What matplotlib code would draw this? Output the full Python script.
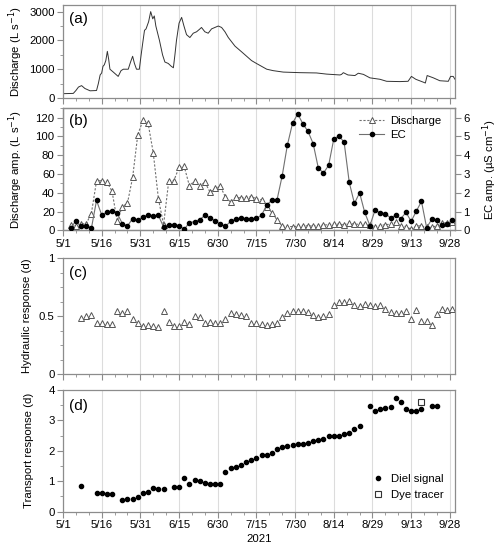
import matplotlib
matplotlib.use("Agg")
import matplotlib.pyplot as plt
from matplotlib.ticker import MultipleLocator, FixedLocator
import numpy as np

plt.rcParams['font.family'] = ['Liberation Sans', 'DejaVu Sans']
plt.rcParams['font.size'] = 8

# ---- data (x = days after 5/1/2021) ----
tick_days = [0, 15, 30, 45, 60, 75, 90, 105, 120, 135, 150]
tick_labels = ['5/1', '5/16', '5/31', '6/15', '6/30', '7/15', '7/30', '8/14', '8/29', '9/13', '9/28']

# (a) discharge
q_days = [0, 2, 4, 5, 6, 7.2, 8.5, 10.5, 13, 13.7, 14.4, 15, 15.5, 16, 16.6, 17.2, 17.7, 18.2, 19.5, 21.4,
          22.5, 23.4, 25.3, 26.2, 27, 27.7, 28.5, 29.6, 30.3, 30.9, 31.6, 32.2, 33.2, 34, 34.8, 35.4,
          36, 37.4, 38.6, 39.5, 40.8, 42, 42.8, 43.4, 44, 45, 46, 46.9, 47.9, 49.2, 50.5, 51.8, 53.1,
          53.7, 55, 56.3, 57.6, 58.9, 60.2, 61.5, 62.8, 64.1, 65.4, 66.7, 68, 69.3, 71.2, 73.1, 75, 77,
          79, 81.5, 85.4, 91.9, 98.3, 102.2, 107.4, 108, 108.7, 110.5, 113.2, 114.5, 116.5, 119, 122.9,
          125.5, 130.6, 133.8, 135.1, 136.8, 139.7, 140.5, 141.2, 143.6, 146.1, 149.4, 150.3, 151.3, 152]
q_vals = [150, 155, 160, 260, 380, 430, 330, 250, 260, 500, 800, 870, 1100, 1150, 1300, 1620, 1350, 1000,
          900, 750, 950, 1000, 1000, 1250, 1450, 1200, 1000, 1000, 1500, 1900, 2350, 2400, 2650, 3000,
          2750, 2850, 2500, 2000, 1500, 1250, 1200, 1100, 1050, 1500, 2000, 2600, 2800, 2500, 2200,
          2100, 2250, 2300, 2400, 2450, 2300, 2250, 2400, 2450, 2500, 2450, 2300, 2100, 1950, 1800,
          1700, 1600, 1450, 1300, 1200, 1100, 1000, 950, 900, 880, 870, 830, 800, 820, 880, 800, 780,
          860, 820, 700, 650, 580, 570, 580, 750, 650, 550, 520, 780, 700, 600, 580, 750, 750, 650]

# (b) diel amplitudes
amp_days = list(range(3, 152, 2))
q_amp = [5.7, 5, 6.8, 7.1, 17.9, 52.5, 53, 51.4, 41.8, 10, 25, 29, 56.4, 102, 117, 114, 82.5, 33.6, 6,
         52.5, 53, 67, 68, 47.5, 52.5, 46.8, 51.4, 40.7, 44.6, 46.8, 35.4, 30, 35, 34.6, 34.3, 36, 33.6,
         32.5, 24.6, 18.9, 11, 4.5, 4.0, 4.0, 4.2, 4.5, 4.8, 4.5, 5, 5.5, 6.0, 6.5, 6.5, 6, 7.5, 6.5,
         6.5, 6.5, 5.5, 4.0, 5.0, 6.0, 6.5, 8.5, 5, 4, 1, 5, 4.5, 3.5, 3, 5, 8, 8, 9]
ec_amp = [0.125, 0.5, 0.21, 0.21, 0.1, 1.59, 0.82, 0.96, 1.04, 0.91, 0.36, 0.23, 0.625, 0.55, 0.7, 0.84,
          0.77, 0.79, 0.18, 0.3, 0.3, 0.25, 0.05, 0.41, 0.46, 0.57, 0.79, 0.68, 0.5, 0.32, 0.21, 0.48,
          0.59, 0.64, 0.625, 0.59, 0.64, 0.8, 1.36, 1.59, 1.63, 2.91, 4.54, 5.7, 6.2, 5.68, 5.27, 4.62,
          3.32, 3.05, 3.46, 4.87, 5.02, 4.7, 2.55, 1.43, 2.0, 0.95, 0.25, 1.07, 0.93, 0.89, 0.66, 0.8,
          0.625, 0.95, 0.48, 1.02, 1.54, 0.14, 0.59, 0.54, 0.27, 0.32, 0.55]

# (c) hydraulic response
hyd_days = list(range(7, 152, 2))
hyd_resp = [0.481, 0.501, 0.51, 0.444, 0.444, 0.432, 0.432, 0.548, 0.53, 0.545, 0.473, 0.441, 0.415,
            0.424, 0.418, 0.409, 0.548, 0.45, 0.418, 0.418, 0.45, 0.432, 0.501, 0.49, 0.438, 0.45,
            0.438, 0.441, 0.473, 0.53, 0.516, 0.51, 0.501, 0.438, 0.438, 0.435, 0.424, 0.432, 0.438,
            0.493, 0.527, 0.542, 0.542, 0.542, 0.533, 0.51, 0.49, 0.504, 0.522, 0.6, 0.625, 0.625,
            0.631, 0.6, 0.591, 0.602, 0.594, 0.585, 0.594, 0.559, 0.539, 0.53, 0.524, 0.542, 0.473,
            0.55, 0.458, 0.461, 0.427, 0.522, 0.559, 0.556, 0.562]

# (d) transport response
tr_days = [7, 13, 15, 17, 19, 23, 25, 27, 29, 31, 33, 35, 37, 39, 43, 45, 47, 49, 51, 53, 55, 57, 59, 61,
           63, 65, 67, 69, 71, 73, 75, 77, 79, 81, 83, 85, 87, 89, 91, 93, 95, 97, 99, 101, 103, 105,
           107, 109, 111, 113, 115, 119, 121, 123, 125, 127, 129, 131, 133, 135, 137, 139, 143, 145]
tr_resp = [0.83, 0.61, 0.6, 0.58, 0.59, 0.40, 0.41, 0.41, 0.48, 0.63, 0.66, 0.77, 0.76, 0.76, 0.80, 0.82,
           1.12, 0.9, 1.04, 1.01, 0.93, 0.91, 0.91, 0.92, 1.31, 1.43, 1.48, 1.53, 1.63, 1.71, 1.76, 1.86,
           1.86, 1.92, 2.06, 2.12, 2.16, 2.19, 2.21, 2.24, 2.27, 2.31, 2.37, 2.4, 2.49, 2.5, 2.5, 2.54,
           2.58, 2.71, 2.81, 3.48, 3.3, 3.37, 3.41, 3.43, 3.74, 3.61, 3.38, 3.31, 3.32, 3.36, 3.47, 3.47]
dye_days = [139]
dye_resp = [3.61]

# ---- figure ----
W, H = 500, 552
fig = plt.figure(figsize=(W / 100, H / 100), dpi=100)
L, R = 63, 455

def add_ax(top, bottom):
    return fig.add_axes([L / W, 1 - bottom / H, (R - L) / W, (bottom - top) / H])

axa = add_ax(5, 98)
axb = add_ax(108.3, 230.3)
axc = add_ax(258.3, 374)
axd = add_ax(390, 511.7)

frame_c = '#8c8c8c'
grid_c = '#dcdcdc'
FS = 8.2

def style(ax, show_labels):
    ax.set_xlim(0, 152)
    ax.xaxis.set_major_locator(FixedLocator(tick_days))
    ax.xaxis.set_minor_locator(MultipleLocator(5))
    if show_labels:
        ax.set_xticklabels(tick_labels)
    else:
        ax.set_xticklabels([])
    ax.grid(axis='x', which='major', color=grid_c, lw=0.8, zorder=0)
    ax.set_axisbelow(True)
    for s in ax.spines.values():
        s.set_color(frame_c)
        s.set_linewidth(0.9)
    ax.tick_params(which='both', direction='out', color=frame_c, labelsize=FS, pad=2)
    ax.tick_params(which='major', length=4)
    ax.tick_params(which='minor', length=2.5)

# (a)
style(axa, False)
axa.plot(q_days, q_vals, color='#333333', lw=0.7)
axa.set_ylim(0, 3230)
axa.yaxis.set_major_locator(MultipleLocator(1000))
axa.yaxis.set_minor_locator(MultipleLocator(500))
axa.set_ylabel('Discharge (L s$^{-1}$)', fontsize=FS)
axa.yaxis.set_label_coords(-0.098, 0.5)
axa.text(0.015, 0.93, '(a)', transform=axa.transAxes, fontsize=11, va='top', ha='left')

# (b)
style(axb, True)
l1, = axb.plot(amp_days, q_amp, ls=(0, (2, 1.5)), color='#707070', lw=0.8, marker='^', ms=4,
               mfc='white', mec='#555555', mew=0.7, label='Discharge', zorder=3)
axb.set_ylim(0, 130)
axb.yaxis.set_major_locator(MultipleLocator(20))
axb.yaxis.set_minor_locator(MultipleLocator(10))
axb.set_ylabel('Discharge amp. (L s$^{-1}$)', fontsize=FS)
axb.yaxis.set_label_coords(-0.098, 0.5)
axb2 = axb.twinx()
axb2.set_xlim(0, 152)
l2, = axb2.plot(amp_days, ec_amp, ls='-', color='#707070', lw=0.8, marker='o', ms=3,
                mfc='black', mec='black', label='EC', zorder=3)
axb2.set_ylim(0, 6.5)
axb2.yaxis.set_major_locator(MultipleLocator(1))
for s in axb2.spines.values():
    s.set_color(frame_c)
    s.set_linewidth(0.9)
axb2.tick_params(which='both', direction='out', color=frame_c, labelsize=FS, pad=2, length=4)
axb2.set_ylabel('EC amp. (\u00b5S cm$^{-1}$)', fontsize=FS)
axb2.yaxis.set_label_coords(1.066, 0.5)
axb.text(0.015, 0.95, '(b)', transform=axb.transAxes, fontsize=11, va='top', ha='left')
axb2.legend([l1, l2], ['Discharge', 'EC'], loc='upper right', frameon=False, fontsize=FS,
            handlelength=2.2, handletextpad=0.5, borderaxespad=0.3, labelspacing=0.3,
            bbox_to_anchor=(0.985, 1.0))

# (c)
style(axc, False)
axc.plot(hyd_days, hyd_resp, ls='none', marker='^', ms=4, mfc='white', mec='#555555', mew=0.7)
axc.set_ylim(0, 1)
axc.yaxis.set_major_locator(FixedLocator([0, 0.5, 1]))
axc.set_yticklabels(['0', '0.5', '1'])
axc.yaxis.set_minor_locator(MultipleLocator(0.125))
axc.set_ylabel('Hydraulic response (d)', fontsize=FS)
axc.yaxis.set_label_coords(-0.08, 0.5)
axc.text(0.015, 0.93, '(c)', transform=axc.transAxes, fontsize=11, va='top', ha='left')

# (d)
style(axd, True)
axd.plot(tr_days, tr_resp, ls='none', marker='o', ms=3, mfc='black', mec='black', label='Diel signal')
axd.plot(dye_days, dye_resp, ls='none', marker='s', ms=4, mfc='white', mec='#333333', mew=0.8,
         label='Dye tracer')
axd.set_ylim(0, 4)
axd.yaxis.set_major_locator(MultipleLocator(1))
axd.yaxis.set_minor_locator(MultipleLocator(0.5))
axd.set_ylabel('Transport response (d)', fontsize=FS)
axd.yaxis.set_label_coords(-0.075, 0.5)
axd.set_xlabel('2021', labelpad=3, fontsize=FS)
axd.text(0.015, 0.93, '(d)', transform=axd.transAxes, fontsize=11, va='top', ha='left')
axd.legend(loc='lower right', frameon=False, fontsize=FS, handlelength=1.0, handletextpad=0.6,
           labelspacing=0.55, borderaxespad=0.6)

fig.savefig('out.png', dpi=100)
